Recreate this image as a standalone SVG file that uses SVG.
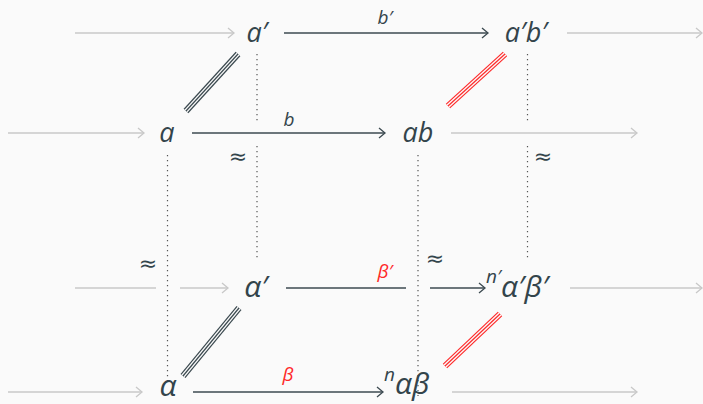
<svg xmlns="http://www.w3.org/2000/svg" width="703" height="404" viewBox="0 0 703 404">
<defs>
<marker id="hd" markerWidth="12" markerHeight="12" refX="10" refY="6" orient="auto" markerUnits="userSpaceOnUse"><path d="M4,1 L10,6 L4,11" fill="none" stroke="#3c4a50" stroke-width="1.3"/></marker>
<marker id="hg" markerWidth="12" markerHeight="12" refX="10" refY="6" orient="auto" markerUnits="userSpaceOnUse"><path d="M4,1 L10,6 L4,11" fill="none" stroke="#c8c8c8" stroke-width="1.3"/></marker>
<style>
.t{font-family:"Open Sans","Noto Sans",sans-serif;font-style:italic;fill:#33444b;font-size:27px}
.gk{font-size:30px}
.l{font-family:"Open Sans","Noto Sans",sans-serif;font-style:italic;fill:#33444b;font-size:19px}
.r{fill:#ff2a2a}
.ap{font-family:"DejaVu Sans",sans-serif;fill:#33444b;font-size:22px}
.g{stroke:#c8c8c8;stroke-width:1.4;fill:none}
.d{stroke:#3c4a50;stroke-width:1.4;fill:none}
.dot{stroke:#555;stroke-width:1.2;stroke-dasharray:1.2 3.8;fill:none}
.t1{stroke-width:6.4;fill:none}
.t2{stroke:#fafafa;stroke-width:4;fill:none}
.t3{stroke-width:1.2;fill:none}
</style>
</defs>
<rect width="703" height="404" fill="#fafafa"/>
<g id="connectors">
<line class="g" x1="75" y1="33" x2="234" y2="33" marker-end="url(#hg)"/>
<line class="g" x1="567" y1="33" x2="702" y2="33" marker-end="url(#hg)"/>
<line class="g" x1="8" y1="133" x2="144" y2="133" marker-end="url(#hg)"/>
<line class="g" x1="451" y1="133" x2="637" y2="133" marker-end="url(#hg)"/>
<line class="g" x1="75" y1="288" x2="156" y2="288"/>
<line class="g" x1="180" y1="288" x2="228" y2="288" marker-end="url(#hg)"/>
<line class="g" x1="570" y1="288" x2="702" y2="288" marker-end="url(#hg)"/>
<line class="g" x1="8" y1="392" x2="142" y2="392" marker-end="url(#hg)"/>
<line class="g" x1="452" y1="392" x2="637" y2="392" marker-end="url(#hg)"/>
<line class="d" x1="284" y1="33" x2="488" y2="33" marker-end="url(#hd)"/>
<line class="d" x1="192" y1="133" x2="385" y2="133" marker-end="url(#hd)"/>
<line class="d" x1="286" y1="288" x2="406" y2="288"/>
<line class="d" x1="430" y1="288" x2="485" y2="288" marker-end="url(#hd)"/>
<line class="d" x1="193" y1="392" x2="383" y2="392" marker-end="url(#hd)"/>
<line class="dot" x1="257" y1="54" x2="257" y2="122"/>
<line class="dot" x1="257" y1="146" x2="257" y2="258"/>
<line class="dot" x1="167.5" y1="155" x2="167.5" y2="385"/>
<line class="dot" x1="418" y1="155" x2="418" y2="396"/>
<line class="dot" x1="527.5" y1="54" x2="527.5" y2="122"/>
<line class="dot" x1="527.5" y1="146" x2="527.5" y2="258"/>
<g stroke="#3c4a50">
<line class="t1" x1="186" y1="111" x2="238" y2="54"/>
<line class="t2" x1="186" y1="111" x2="238" y2="54"/>
<line class="t3" x1="186" y1="111" x2="238" y2="54"/>
<line class="t1" x1="183" y1="376" x2="239" y2="308"/>
<line class="t2" x1="183" y1="376" x2="239" y2="308"/>
<line class="t3" x1="183" y1="376" x2="239" y2="308"/>
</g>
<g stroke="#ff2a2a">
<line class="t1" x1="448" y1="106" x2="505" y2="54"/>
<line class="t2" x1="448" y1="106" x2="505" y2="54"/>
<line class="t3" x1="448" y1="106" x2="505" y2="54"/>
<line class="t1" x1="445" y1="366" x2="500" y2="314"/>
<line class="t2" x1="445" y1="366" x2="500" y2="314"/>
<line class="t3" x1="445" y1="366" x2="500" y2="314"/>
</g>
<text class="l" x="385" y="24" text-anchor="middle">b′</text>
<text class="l" x="289" y="126" text-anchor="middle">b</text>
<text class="l r" x="385" y="278" text-anchor="middle">β′</text>
<text class="l r" x="288" y="381" text-anchor="middle">β</text>
<text class="ap" x="238" y="164" text-anchor="middle">≈</text>
<text class="ap" x="148" y="271" text-anchor="middle">≈</text>
<text class="ap" x="435" y="266" text-anchor="middle">≈</text>
<text class="ap" x="543" y="164" text-anchor="middle">≈</text>
</g>
<g id="n-a1"><text class="t" x="257" y="42" text-anchor="middle">a′</text></g>
<g id="n-a1b1"><text class="t" x="526" y="42" text-anchor="middle">a′b′</text></g>
<g id="n-a"><text class="t" x="167" y="142" text-anchor="middle">a</text></g>
<g id="n-ab"><text class="t" x="418" y="142" text-anchor="middle">ab</text></g>
<g id="n-al1"><text class="t gk" x="256" y="297" text-anchor="middle">α′</text></g>
<g id="n-nal1be1"><text class="t gk" x="486" y="297"><tspan font-size="19px" dy="-14">n′</tspan><tspan dy="14">α′β′</tspan></text></g>
<g id="n-al"><text class="t gk" x="168" y="396" text-anchor="middle">α</text></g>
<g id="n-nalbe"><text class="t gk" x="384" y="394"><tspan font-size="19px" dy="-13">n</tspan><tspan dy="13">αβ</tspan></text></g>
</svg>
